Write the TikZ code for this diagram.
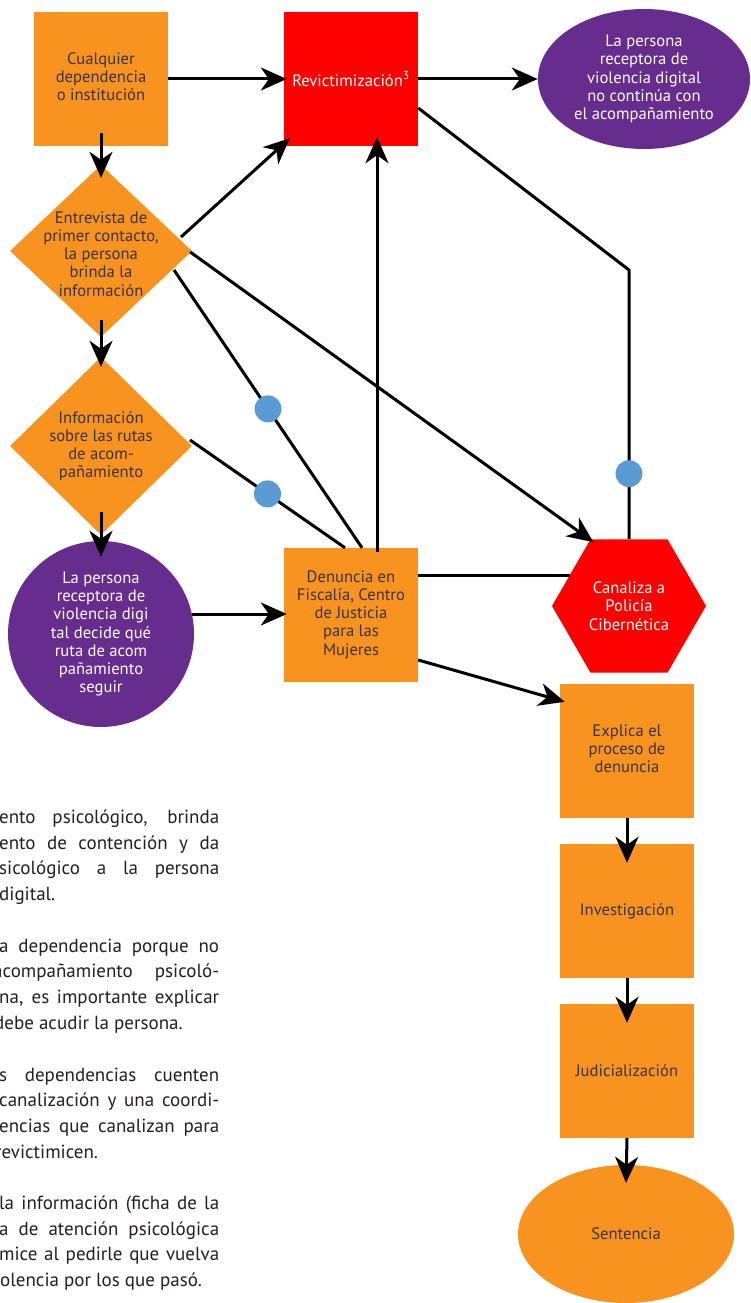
\documentclass[tikz,border=0pt]{standalone}
\usepackage{fontspec}
\setmainfont{PT Sans}
\usetikzlibrary{arrows.meta,shapes.geometric,calc}
\definecolor{orng}{HTML}{F7931E}
\definecolor{rd}{HTML}{FF0000}
\definecolor{purp}{HTML}{662D8F}
\definecolor{dotblue}{HTML}{5B9BD5}
\definecolor{darktxt}{HTML}{3A3338}
\definecolor{bodytxt}{HTML}{231F20}
\newcommand\jline[4]{\node[ptxt, anchor=base west] at (#1,#2) {\makebox[#3pt][s]{#4}};}
\newcommand\wline[3]{\node[ptxt, anchor=base west] at (#1,#2) {#3};}
\begin{document}
\begin{tikzpicture}[x=1pt,y=-1pt,
  lbl/.style={font=\fontsize{16.6}{18.2}\selectfont, align=center, inner sep=0pt},
  obox/.style={lbl, rectangle, fill=orng, text=darktxt, minimum width=134pt, minimum height=134pt},
  rbox/.style={lbl, rectangle, fill=rd, text=white, minimum width=134pt, minimum height=134pt},
  pell/.style={lbl, ellipse, fill=purp, text=white},
  oell/.style={lbl, ellipse, fill=orng, text=darktxt},
  dmd/.style={diamond, fill=orng, inner sep=0pt},
  hexa/.style={lbl, regular polygon, regular polygon sides=6, fill=rd, text=white, minimum size=154pt},
  conn/.style={line width=3pt, black},
  arr/.style={conn, -{Stealth[length=26pt,width=23pt,inset=8pt]}},
  bdot/.style={circle, fill=dotblue, minimum size=27pt, inner sep=0pt},
  ptxt/.style={font=\fontsize{19}{21}\selectfont, text=bodytxt, inner sep=0pt}
]
\useasboundingbox (0,0) rectangle (750,1303);
\clip (0,0) rectangle (750,1303);

% nodes
\node[obox] (cual) at (101,79) {\raisebox{4pt}{\begin{tabular}{@{}c@{}}Cualquier\\dependencia\\o institución\end{tabular}}};
\node[rbox] (rev) at (351,79) {Revictimización\textsuperscript{3}};
\node[pell, minimum width=212pt, minimum height=140pt] (top) at (644,79) {La persona\\receptora de\\violencia digital\\no continúa con\\el acompañamiento};
\node[dmd, minimum width=182pt, minimum height=172pt] (d1) at (101,251) {};
\node[lbl, text=darktxt] (d1t) at (101,254) {Entrevista de\\primer contacto,\\la persona\\brinda la\\información};
\node[dmd, minimum width=182pt, minimum height=178pt] (d2) at (101,446) {};
\node[lbl, text=darktxt] (d2t) at (101,446) {Información\\sobre las rutas\\de acom-\\pañamiento};
\node[pell, circle, minimum size=186pt] (circ) at (101,634) {La persona\\receptora de\\violencia digi\\tal decide qué\\ruta de acom\\pañamiento\\seguir};
\node[obox] (den) at (351,615) {\raisebox{4pt}{\begin{tabular}{@{}c@{}}Denuncia en\\Fiscalía, Centro\\de Justicia\\para las\\Mujeres\end{tabular}}};
\node[hexa] (hex) at (629,606) {Canaliza a\\Policía\\Cibernética};
\node[obox] (exp) at (627,751) {\raisebox{3pt}{\begin{tabular}{@{}c@{}}Explica el\\proceso de\\denuncia\end{tabular}}};
\node[obox] (inv) at (627,911) {Investigación};
\node[obox] (jud) at (627,1071) {Judicialización};
\node[oell, minimum width=216pt, minimum height=138pt] (sen) at (626,1234) {Sentencia};
\coordinate (bend) at (629,270);

% connectors
\draw[arr] (cual.east) -- ($(rev.west)+(3,0)$);
\draw[arr] (rev.east) -- (top.west);
\draw[arr] ($(cual.south)+(0,-13)$) -- ($(d1.north)+(0,13)$);
\draw[arr] ($(d1.center)+(80,-14)$) -- ($(rev.south west)+(6,-8)$);
\draw[arr] ($(d1.east)+(-2,1)$) -- ($(hex.120)+(3,3)$);
\draw[conn] ($(d1.center)+(73,19)$) -- node[bdot] (dot1) {} ($(den.north)+(11,0)$);
\draw[arr] ($(d1.south)+(0,-17)$) -- ($(d2.north)+(0,10)$);
\draw[conn] ($(d2.center)+(89,-6)$) -- node[bdot] (dot2) {} ($(den.north)+(-6,0)$);
\draw[arr] ($(d2.south)+(0,-23)$) -- ($(circ.north)+(0,16)$);
\draw[arr] ($(circ.center)+(91,-20)$) -- ($(den.west)+(3,-1)$);
\draw[arr] ($(den.north)+(26,4)$) -- ($(rev.south)+(26,-9)$);
\draw[conn] ($(rev.east)+(0,29)$) -- (bend) -- node[bdot, pos=0.757] (dot3) {} (hex.north);
\draw[conn] ($(den.east)+(0,-40)$) -- ($(hex.center)+(-59,-31)$);
\draw[arr] ($(den.east)+(0,45)$) -- ($(exp.north west)+(5,18)$);
\draw[arr] (exp.south) -- ($(inv.north)+(0,19)$);
\draw[arr] (inv.south) -- ($(jud.north)+(0,19)$);
\draw[arr] (jud.south) -- ($(sen.north)+(0,18)$);

% body text (cut at the left edge as in the reference)
\jline{-1}{823}{220}{ento psicológico, brinda}
\jline{-1}{849}{220}{ento de contención y da}
\jline{-1}{874}{220}{sicológico a la persona}
\wline{-1}{900}{digital.}
\jline{-1}{952}{220}{a dependencia porque no}
\jline{-7}{977}{226}{acompañamiento psicoló-}
\jline{-1}{1003}{220}{na, es importante explicar}
\wline{-6}{1029}{debe acudir la persona.}
\jline{-1}{1081}{220}{s dependencias cuenten}
\jline{-1}{1106}{220}{canalización y una coordi-}
\jline{-1}{1132}{220}{encias que canalizan para}
\wline{-5}{1158}{revictimicen.}
\jline{-1}{1209}{220}{la información (ficha de la}
\jline{-1}{1235}{220}{a de atención psicológica}
\jline{-1}{1260}{220}{mice al pedirle que vuelva}
\wline{0}{1286}{olencia por los que pasó.}
\end{tikzpicture}
\end{document}
